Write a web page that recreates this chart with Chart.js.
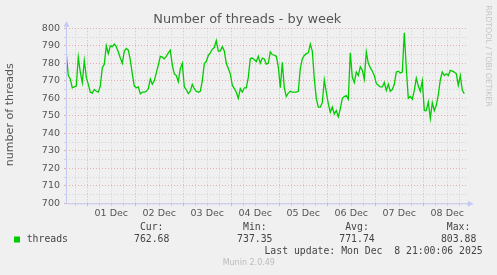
<!DOCTYPE html>
<html>
<head>
<meta charset="utf-8">
<script src="https://cdn.jsdelivr.net/npm/chart.js@4.4.1/dist/chart.umd.min.js"></script>
<style>
  html, body { margin: 0; padding: 0; background: #f0f0f0; }
  #wrap { width: 497px; height: 275px; }
</style>
</head>
<body>
<div id="wrap"><canvas id="threads-chart" width="497" height="275"></canvas></div>
<script>
// hourly samples, hours counted from 01 Dec 00:00
const startHour = -10.5;
const stepHours = 1;
const threads = [
  785.5, 773, 771, 766, 766.5, 767, 783.5, 775, 769, 781.5, 772, 768, 763.5, 763, 765, 764, 763.5,
  767, 777.5, 779.5, 790, 785.5, 790, 789.5, 791, 789.5, 786.5, 783, 780, 787, 788.5, 787.5, 782, 774,
  767, 766, 766.5, 762.5, 763.5, 763.5, 764, 765.5, 771, 768, 770, 774.5, 779, 784, 783.5, 782.5, 784,
  786, 787.5, 779, 774, 773, 769.5, 777, 780, 766.5, 765, 762.7, 764, 768, 765.5, 764, 763.5,
  764, 770, 779.8, 781, 784.5, 786, 788, 789, 793, 787, 787, 789.5, 787, 780, 777, 774, 767.5,
  765.5, 763.5, 760, 765.5, 763.5, 766, 766, 772, 782.7, 783, 782, 781, 784, 780, 783, 782.5,
  779.5, 780, 786.5, 785, 784.6, 784, 778, 766, 780.5, 766, 761, 763, 764, 763.5, 763.5, 763.5, 764,
  777, 782.5, 784.5, 785.5, 786, 791, 787, 771, 760, 755, 755, 757.5, 770.5, 763.5, 757, 752,
  755, 751, 753, 749.5, 754, 760, 761, 761.5, 759.5, 786, 772, 769, 775, 773, 778, 776, 771,
  786.5, 780, 777.5, 775.5, 773, 768.5, 767.5, 766.5, 766.5, 769, 764.5, 768, 764, 765, 768, 775,
  775.5, 774.5, 775, 797.5, 777, 760, 761, 759.5, 764.5, 771.5, 767, 764, 770, 753, 753, 757.9, 748.5,
  757.5, 753, 756, 762, 770.5, 775, 773, 774, 773, 776, 775.5, 775, 774, 767.5, 773, 764.6, 762.7
];
const dayLabels = ["01 Dec", "02 Dec", "03 Dec", "04 Dec", "05 Dec", "06 Dec", "07 Dec", "08 Dec"];
const yMin = 700;
const yMax = 800;
const statNames = ["Cur:", "Min:", "Avg:", "Max:"];
const statValues = ["762.68", "737.35", "771.74", "803.88"];
const lastUpdate = "Last update: Mon Dec  8 21:00:06 2025";

const plot = { left: 66, top: 28.3, right: 467.7, bottom: 203.3 };
const green = "#00cc00";
const majorGrid = "rgba(225,140,140,0.65)";
const minorGrid = "rgba(200,200,200,0.75)";
const axisColor = "#c4c8f2";

const points = threads.map((v, i) => ({ x: startHour + i * stepHours, y: v }));

function gridColor(isMajor) {
  return isMajor ? majorGrid : minorGrid;
}

const decor = {
  id: "decor",
  afterDraw(chart) {
    const ctx = chart.ctx;
    const a = chart.chartArea;
    ctx.save();
    // axes + arrows
    ctx.strokeStyle = axisColor;
    ctx.fillStyle = axisColor;
    ctx.lineWidth = 1;
    ctx.beginPath();
    ctx.moveTo(a.left + 0.5, a.top - 4);
    ctx.lineTo(a.left + 0.5, a.bottom + 0.5);
    ctx.lineTo(a.right + 2, a.bottom + 0.5);
    ctx.stroke();
    ctx.beginPath();
    ctx.moveTo(a.left + 0.5, a.top - 7);
    ctx.lineTo(a.left - 2.5, a.top - 1.5);
    ctx.lineTo(a.left + 3.5, a.top - 1.5);
    ctx.closePath();
    ctx.fill();
    ctx.beginPath();
    ctx.moveTo(a.right + 6, a.bottom + 0.5);
    ctx.lineTo(a.right, a.bottom - 2.5);
    ctx.lineTo(a.right, a.bottom + 3.5);
    ctx.closePath();
    ctx.fill();

    // title
    ctx.fillStyle = "#555";
    ctx.textAlign = "center";
    ctx.textBaseline = "middle";
    ctx.font = "12.9px 'DejaVu Sans'";
    ctx.fillText("Number of threads - by week", 247.3, 19.5);

    // vertical axis title
    ctx.save();
    ctx.translate(10, 114.7);
    ctx.rotate(-Math.PI / 2);
    ctx.font = "11.1px 'DejaVu Sans'";
    ctx.fillText("number of threads", 0, 0);
    ctx.restore();

    // rrdtool credit
    ctx.save();
    ctx.translate(488.3, 56);
    ctx.rotate(Math.PI / 2);
    ctx.fillStyle = "#c4c4c4";
    ctx.font = "7.9px 'DejaVu Sans'";
    ctx.fillText("RRDTOOL / TOBI OETIKER", 0, 0);
    ctx.restore();

    // legend
    ctx.font = "9.8px 'DejaVu Sans Mono'";
    ctx.fillStyle = "#444";
    const cols = [151.7, 254.8, 357, 458.6];
    statNames.forEach((n, i) => ctx.fillText(n, cols[i], 227.3));
    statValues.forEach((v, i) => ctx.fillText(v, cols[i], 239.3));
    ctx.textAlign = "left";
    ctx.fillText("threads", 26.7, 239.3);
    ctx.textAlign = "right";
    ctx.fillText(lastUpdate, 482.7, 251.7);
    ctx.fillStyle = green;
    ctx.fillRect(14, 236.5, 6, 6);

    ctx.textAlign = "center";
    ctx.fillStyle = "#bbb";
    ctx.font = "8px 'DejaVu Sans'";
    ctx.fillText("Munin 2.0.49", 248.8, 263.3);
    ctx.restore();
  }
};

const data = {
  datasets: [
    {
      label: "threads",
      data: points,
      borderColor: green,
      borderWidth: 1.3,
      pointRadius: 0,
      tension: 0,
      fill: false,
    },
  ],
};

const config = {
  type: "line",
  data: data,
  options: {
    responsive: false,
    animation: false,
    devicePixelRatio: 1,
    layout: {
      padding: { left: 0, top: plot.top, right: 497 - plot.right, bottom: 275 - plot.bottom - 20 },
    },
    plugins: {
      legend: { display: false },
      title: { display: false },
      tooltip: { enabled: false },
    },
    scales: {
      x: {
        type: "linear",
        min: -10.65,
        max: 190.2,
        afterFit: (s) => { s.height = 20; },
        afterBuildTicks: (s) => {
          const t = [];
          for (let h = -6; h <= 186; h += 6) t.push({ value: h });
          s.ticks = t;
        },
        grid: {
          color: (c) => gridColor(c.tick && c.tick.value % 24 === 0),
          tickColor: (c) => gridColor(c.tick && c.tick.value % 24 === 0),
          lineWidth: 1,
          tickLength: 3,
        },
        border: { display: false, dash: [1, 2] },
        ticks: {
          autoSkip: false,
          maxRotation: 0,
          padding: 2,
          color: "#555",
          font: { family: "DejaVu Sans", size: 9.5 },
          callback: (v) => {
            const k = (v - 12) / 24;
            return Number.isInteger(k) && dayLabels[k] ? dayLabels[k] : "";
          },
        },
      },
      y: {
        min: yMin,
        max: yMax,
        afterFit: (s) => { s.width = plot.left; },
        afterBuildTicks: (s) => {
          const t = [];
          for (let v = yMin; v <= yMax; v += 5) t.push({ value: v });
          s.ticks = t;
        },
        grid: {
          color: (c) => gridColor(c.tick && c.tick.value % 10 === 0),
          tickColor: (c) => gridColor(c.tick && c.tick.value % 10 === 0),
          lineWidth: 1,
          tickLength: 2,
        },
        border: { display: false, dash: [1, 2] },
        ticks: {
          autoSkip: false,
          padding: 4,
          color: "#555",
          font: { family: "DejaVu Sans", size: 9.5 },
          callback: (v) => (v % 10 === 0 ? String(v) : ""),
        },
      },
    },
  },
  plugins: [decor],
};

new Chart(document.getElementById("threads-chart"), config);
</script>
</body>
</html>
